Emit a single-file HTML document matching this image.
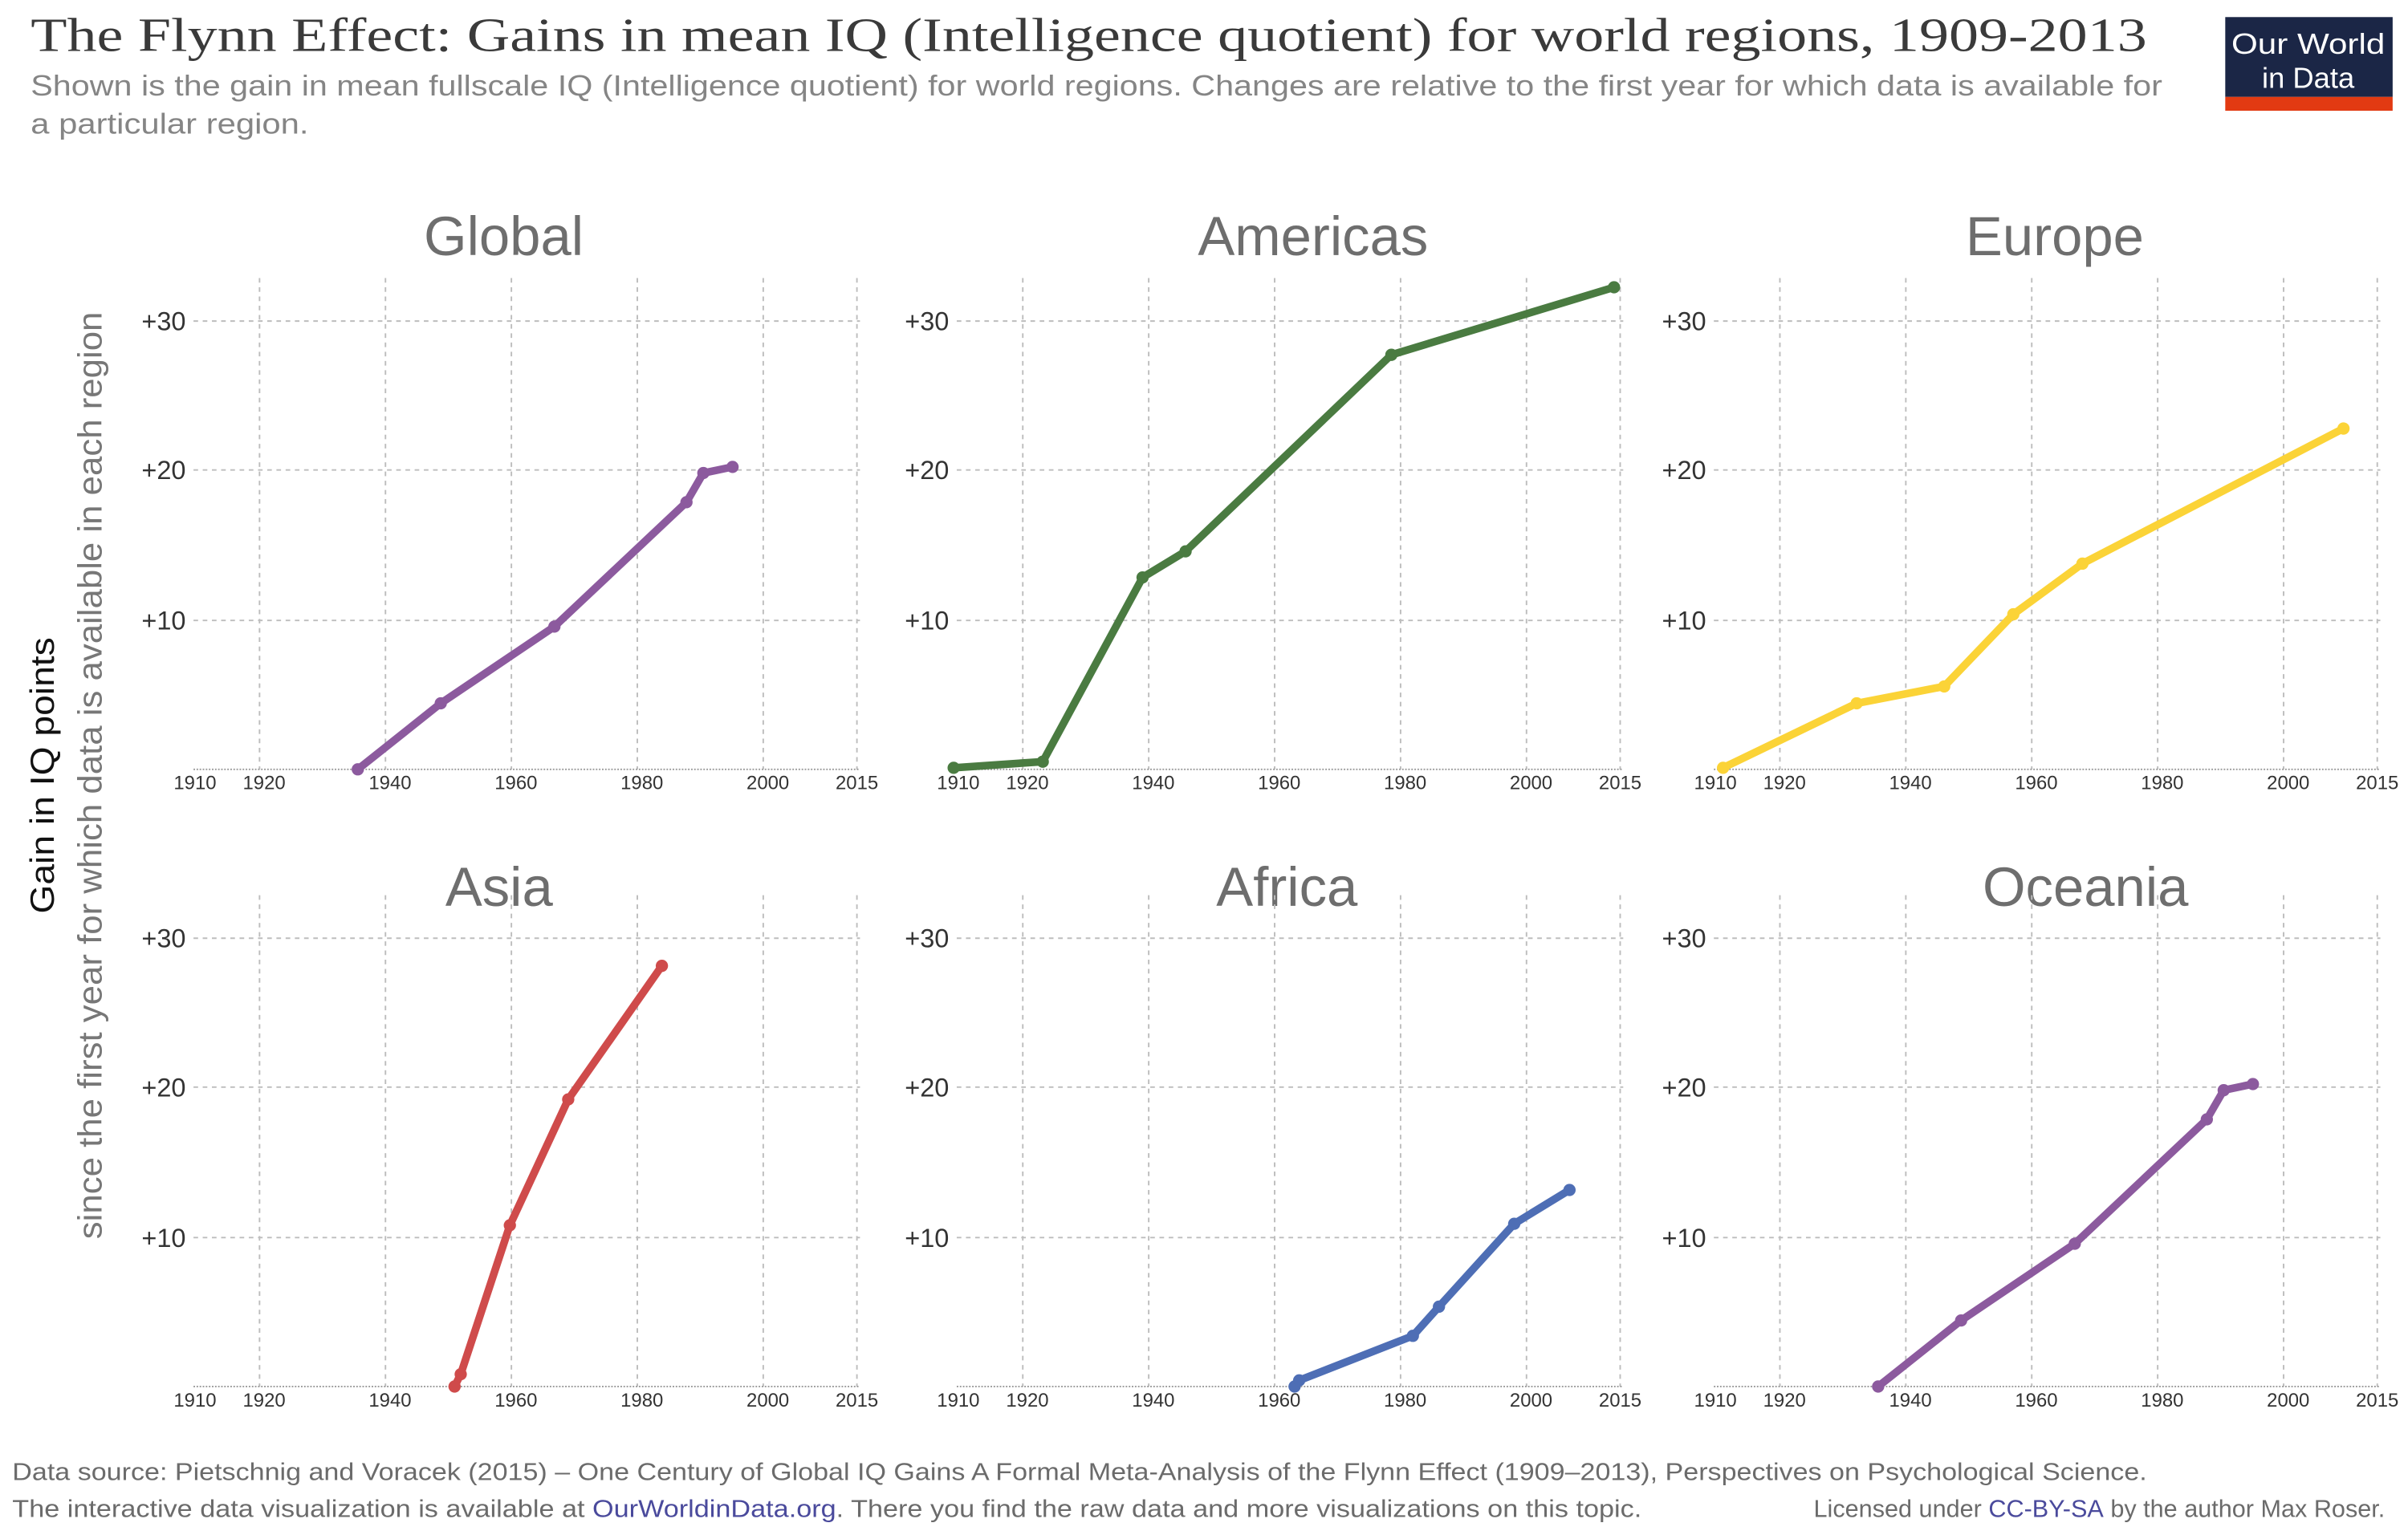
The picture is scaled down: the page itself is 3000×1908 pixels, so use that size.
<!DOCTYPE html>
<html><head><meta charset="utf-8"><style>
html,body{margin:0;padding:0;background:#fff;}
svg{display:block;}
text{font-family:"Liberation Sans",sans-serif;}
</style></head><body>
<svg width="3000" height="1908" viewBox="0 0 1568 997" xmlns="http://www.w3.org/2000/svg">
<defs>
<g id="grid" stroke="#bdbdbd" stroke-width="1" stroke-dasharray="3,3" fill="none">
<line x1="169" y1="181" x2="169" y2="501"/><line x1="251" y1="181" x2="251" y2="501"/><line x1="333" y1="181" x2="333" y2="501"/><line x1="415" y1="181" x2="415" y2="501"/><line x1="497" y1="181" x2="497" y2="501"/><line x1="558" y1="181" x2="558" y2="501"/>
<line x1="126" y1="209" x2="560" y2="209"/><line x1="126" y1="306" x2="560" y2="306"/><line x1="126" y1="404" x2="560" y2="404"/>
<line x1="126" y1="501" x2="560" y2="501" stroke="#999" stroke-dasharray="1,1"/>
</g>
</defs>

<text x="20" y="33" font-family="Liberation Serif,serif" font-size="31" fill="#3a3a3a" textLength="1378" lengthAdjust="spacingAndGlyphs" style="font-family:'Liberation Serif',serif">The Flynn Effect: Gains in mean IQ (Intelligence quotient) for world regions, 1909-2013</text>
<text x="20" y="62" font-size="19" fill="#858585" textLength="1388" lengthAdjust="spacingAndGlyphs">Shown is the gain in mean fullscale IQ (Intelligence quotient) for world regions. Changes are relative to the first year for which data is available for</text>
<text x="20" y="87" font-size="19" fill="#858585" textLength="181" lengthAdjust="spacingAndGlyphs">a particular region.</text>

<rect x="1449" y="11" width="109" height="52" fill="#1b2646"/>
<rect x="1449" y="63" width="109" height="9" fill="#e23a12"/>
<text x="1503" y="35" font-size="19" fill="#fff" text-anchor="middle" textLength="100" lengthAdjust="spacingAndGlyphs">Our World</text>
<text x="1503" y="57" font-size="19" fill="#fff" text-anchor="middle">in Data</text>

<g transform="translate(35,505) rotate(-90)"><text x="0" y="0" font-size="22" fill="#111" text-anchor="middle" textLength="180" lengthAdjust="spacingAndGlyphs">Gain in IQ points</text></g>
<g transform="translate(66,505) rotate(-90)"><text x="0" y="0" font-size="22" fill="#777" text-anchor="middle" textLength="604" lengthAdjust="spacingAndGlyphs">since the first year for which data is available in each region</text></g>

<!-- Panel labels -->
<g font-size="36" fill="#6e6e6e" text-anchor="middle">
<text x="328" y="166">Global</text><text x="855" y="166">Americas</text><text x="1338" y="166">Europe</text>
<text x="325" y="590">Asia</text><text x="838" y="590">Africa</text><text x="1358" y="590">Oceania</text>
</g>

<!-- Top row -->
<g transform="translate(0,0)"><use href="#grid"/>
<g font-size="17" fill="#333" text-anchor="end"><text x="121" y="215">+30</text><text x="121" y="312">+20</text><text x="121" y="410">+10</text></g>
<g font-size="12.5" fill="#333" text-anchor="middle"><text x="127" y="514">1910</text><text x="172" y="514">1920</text><text x="254" y="514">1940</text><text x="336" y="514">1960</text><text x="418" y="514">1980</text><text x="500" y="514">2000</text><text x="558" y="514">2015</text></g>
<polyline points="233,501 287,458 361,408 447,327 458,308 477,304" fill="none" stroke="#8c5a9e" stroke-width="5" stroke-linejoin="round" stroke-linecap="round"/>
<g fill="#8c5a9e"><circle cx="233" cy="501" r="4"/><circle cx="287" cy="458" r="4"/><circle cx="361" cy="408" r="4"/><circle cx="447" cy="327" r="4"/><circle cx="458" cy="308" r="4"/><circle cx="477" cy="304" r="4"/></g>
</g>

<g transform="translate(497,0)"><use href="#grid"/>
<g font-size="17" fill="#333" text-anchor="end"><text x="121" y="215">+30</text><text x="121" y="312">+20</text><text x="121" y="410">+10</text></g>
<g font-size="12.5" fill="#333" text-anchor="middle"><text x="127" y="514">1910</text><text x="172" y="514">1920</text><text x="254" y="514">1940</text><text x="336" y="514">1960</text><text x="418" y="514">1980</text><text x="500" y="514">2000</text><text x="558" y="514">2015</text></g>
<polyline points="124,500 182,496 247,376 275,359 409,231 554,187" fill="none" stroke="#4a7b41" stroke-width="5" stroke-linejoin="round" stroke-linecap="round"/>
<g fill="#4a7b41"><circle cx="124" cy="500" r="4"/><circle cx="182" cy="496" r="4"/><circle cx="247" cy="376" r="4"/><circle cx="275" cy="359" r="4"/><circle cx="409" cy="231" r="4"/><circle cx="554" cy="187" r="4"/></g>
</g>

<g transform="translate(990,0)"><use href="#grid"/>
<g font-size="17" fill="#333" text-anchor="end"><text x="121" y="215">+30</text><text x="121" y="312">+20</text><text x="121" y="410">+10</text></g>
<g font-size="12.5" fill="#333" text-anchor="middle"><text x="127" y="514">1910</text><text x="172" y="514">1920</text><text x="254" y="514">1940</text><text x="336" y="514">1960</text><text x="418" y="514">1980</text><text x="500" y="514">2000</text><text x="558" y="514">2015</text></g>
<polyline points="132,500 219,458 276,447 321,400 366,367 536,279" fill="none" stroke="#fbd337" stroke-width="5" stroke-linejoin="round" stroke-linecap="round"/>
<g fill="#fbd337"><circle cx="132" cy="500" r="4"/><circle cx="219" cy="458" r="4"/><circle cx="276" cy="447" r="4"/><circle cx="321" cy="400" r="4"/><circle cx="366" cy="367" r="4"/><circle cx="536" cy="279" r="4"/></g>
</g>

<!-- Bottom row -->
<g transform="translate(0,402)"><use href="#grid"/>
<g font-size="17" fill="#333" text-anchor="end"><text x="121" y="215">+30</text><text x="121" y="312">+20</text><text x="121" y="410">+10</text></g>
<g font-size="12.5" fill="#333" text-anchor="middle"><text x="127" y="514">1910</text><text x="172" y="514">1920</text><text x="254" y="514">1940</text><text x="336" y="514">1960</text><text x="418" y="514">1980</text><text x="500" y="514">2000</text><text x="558" y="514">2015</text></g>
<polyline points="296,501 300,493 332,396 370,314 431,227" fill="none" stroke="#cf4b4b" stroke-width="5" stroke-linejoin="round" stroke-linecap="round"/>
<g fill="#cf4b4b"><circle cx="296" cy="501" r="4"/><circle cx="300" cy="493" r="4"/><circle cx="332" cy="396" r="4"/><circle cx="370" cy="314" r="4"/><circle cx="431" cy="227" r="4"/></g>
</g>

<g transform="translate(497,402)"><use href="#grid"/>
<g font-size="17" fill="#333" text-anchor="end"><text x="121" y="215">+30</text><text x="121" y="312">+20</text><text x="121" y="410">+10</text></g>
<g font-size="12.5" fill="#333" text-anchor="middle"><text x="127" y="514">1910</text><text x="172" y="514">1920</text><text x="254" y="514">1940</text><text x="336" y="514">1960</text><text x="418" y="514">1980</text><text x="500" y="514">2000</text><text x="558" y="514">2015</text></g>
<polyline points="346,501 349,497 423,468 440,449 489,395 525,373" fill="none" stroke="#4e6eb5" stroke-width="5" stroke-linejoin="round" stroke-linecap="round"/>
<g fill="#4e6eb5"><circle cx="346" cy="501" r="4"/><circle cx="349" cy="497" r="4"/><circle cx="423" cy="468" r="4"/><circle cx="440" cy="449" r="4"/><circle cx="489" cy="395" r="4"/><circle cx="525" cy="373" r="4"/></g>
</g>

<g transform="translate(990,402)"><use href="#grid"/>
<g font-size="17" fill="#333" text-anchor="end"><text x="121" y="215">+30</text><text x="121" y="312">+20</text><text x="121" y="410">+10</text></g>
<g font-size="12.5" fill="#333" text-anchor="middle"><text x="127" y="514">1910</text><text x="172" y="514">1920</text><text x="254" y="514">1940</text><text x="336" y="514">1960</text><text x="418" y="514">1980</text><text x="500" y="514">2000</text><text x="558" y="514">2015</text></g>
<polyline points="233,501 287,458 361,408 447,327 458,308 477,304" fill="none" stroke="#8c5a9e" stroke-width="5" stroke-linejoin="round" stroke-linecap="round"/>
<g fill="#8c5a9e"><circle cx="233" cy="501" r="4"/><circle cx="287" cy="458" r="4"/><circle cx="361" cy="408" r="4"/><circle cx="447" cy="327" r="4"/><circle cx="458" cy="308" r="4"/><circle cx="477" cy="304" r="4"/></g>
</g>

<!-- Footer -->
<text x="8" y="964" font-size="16" fill="#6b6b6b" textLength="1390" lengthAdjust="spacingAndGlyphs">Data source: Pietschnig and Voracek (2015) – One Century of Global IQ Gains A Formal Meta-Analysis of the Flynn Effect (1909–2013), Perspectives on Psychological Science.</text>
<text x="8" y="988" font-size="16" fill="#6b6b6b" textLength="1061" lengthAdjust="spacingAndGlyphs">The interactive data visualization is available at <tspan fill="#4a4a9c">OurWorldinData.org</tspan>. There you find the raw data and more visualizations on this topic.</text>
<text x="1553" y="988" font-size="16" fill="#6b6b6b" text-anchor="end">Licensed under <tspan fill="#4a4a9c">CC-BY-SA</tspan> by the author Max Roser.</text>
</svg>
</body></html>
